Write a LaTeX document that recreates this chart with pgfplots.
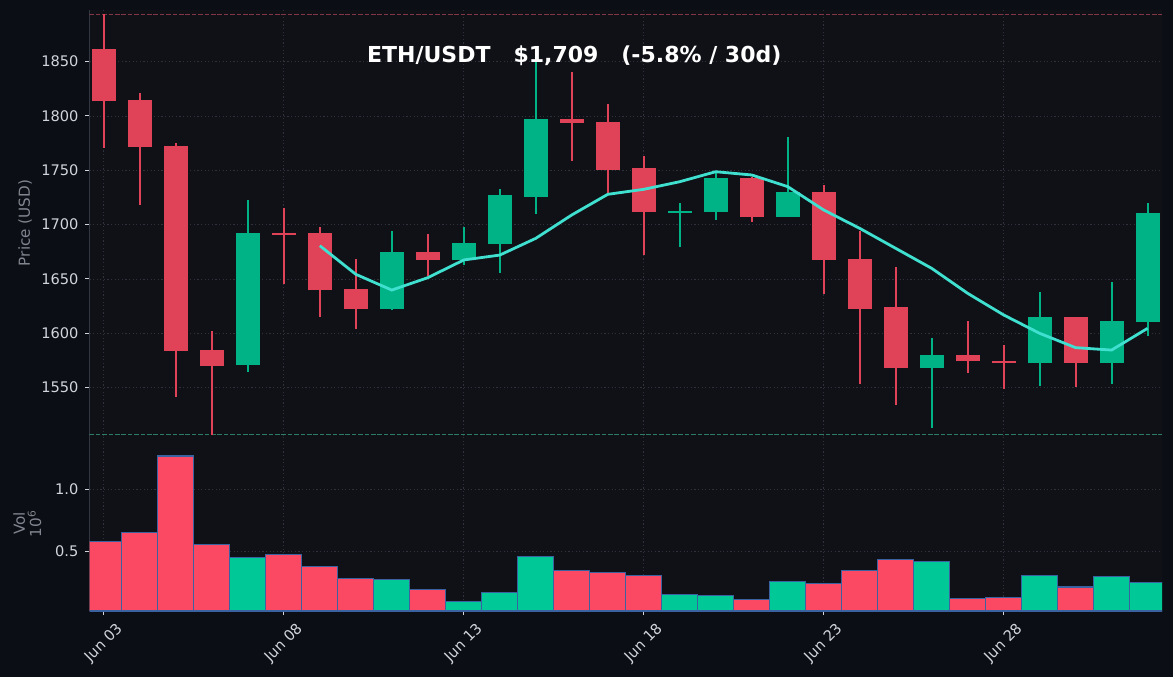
\documentclass[border=0pt]{standalone}
\usepackage{fontspec}
\setmainfont{DejaVu Sans}
\usepackage{pgfplots}
\pgfplotsset{compat=1.18}
\usepackage{pgfplotstable}

\definecolor{figbg}{RGB}{11,14,20}
\definecolor{axbg}{RGB}{15,17,22}
\definecolor{gridc}{RGB}{46,50,60}
\definecolor{spine}{RGB}{50,55,66}
\definecolor{tickc}{RGB}{209,212,220}
\definecolor{labc}{RGB}{128,133,143}
\definecolor{cred}{RGB}{224,66,88}
\definecolor{cgreen}{RGB}{0,179,134}
\definecolor{vred}{RGB}{252,73,99}
\definecolor{vgreen}{RGB}{0,200,150}
\definecolor{vedge}{RGB}{58,98,160}
\definecolor{mac}{RGB}{64,224,208}
\definecolor{dred}{RGB}{130,55,70}
\definecolor{dgreen}{RGB}{45,125,100}

\newcommand\tfont{\fontsize{7.3}{8.8}\selectfont}

% OHLC, red (close < open) and green candles
\pgfplotstableread{
i open high low close
0 1861.3 1893.8 1770.8 1813.5
1 1814.7 1820.9 1718.3 1771.2
2 1772.4 1774.8 1541.7 1583.4
3 1584.3 1602.1 1506.4 1570.2
5 1692.6 1715.3 1645.4 1690.2
6 1692.0 1697.8 1615.0 1639.6
7 1640.5 1668.4 1604.0 1622.1
9 1674.5 1691.1 1652.7 1667.2
13 1797.0 1840.5 1758.6 1793.3
14 1794.2 1811.0 1728.8 1750.6
15 1751.8 1763.2 1672.0 1711.3
18 1742.6 1743.5 1702.7 1707.3
20 1729.7 1736.5 1636.4 1667.2
21 1668.1 1694.1 1553.6 1622.6
22 1623.9 1661.3 1534.3 1568.3
24 1579.8 1611.3 1563.7 1574.2
25 1574.8 1589.2 1548.7 1572.4
27 1614.7 1615.0 1550.6 1572.4
}\redc
\pgfplotstableread{
i open high low close
4 1570.6 1722.7 1564.7 1692.0
8 1622.1 1694.1 1621.0 1674.5
10 1667.2 1697.5 1662.9 1682.8
11 1681.9 1732.5 1655.8 1727.0
12 1725.7 1852.0 1710.1 1797.0
16 1710.7 1719.9 1679.4 1713.0
17 1711.3 1749.6 1704.3 1742.6
19 1707.3 1780.6 1707.0 1729.7
23 1568.3 1595.7 1513.1 1579.8
26 1572.4 1638.0 1551.8 1614.7
28 1572.4 1647.2 1553.6 1611.0
29 1610.1 1719.9 1597.8 1710.4
}\greenc

% 7-day moving average
\pgfplotstableread{
i ma
6 1680.6
7 1654.3
8 1639.8
9 1651.2
10 1667.5
11 1672.0
12 1687.4
13 1708.9
14 1727.9
15 1732.5
16 1739.5
17 1748.7
18 1745.7
19 1735.0
20 1713.5
21 1696.6
22 1678.2
23 1659.8
24 1636.8
25 1616.9
26 1600.0
27 1586.8
28 1584.6
29 1604.6
}\mav

% volume, millions
\pgfplotstableread{
i vol
0 0.579
1 0.651
2 1.264
3 0.556
5 0.476
6 0.381
7 0.286
9 0.198
13 0.349
14 0.332
15 0.310
18 0.119
20 0.246
21 0.349
22 0.437
24 0.127
25 0.137
27 0.217
}\redv
\pgfplotstableread{
i vol
4 0.455
8 0.278
10 0.103
11 0.175
12 0.460
16 0.159
17 0.151
19 0.262
23 0.423
26 0.310
28 0.302
29 0.254
}\greenv

\pgfplotsset{
  darkax/.style={
    scale only axis, width=536.25pt,
    xmin=-0.4, xmax=29.4,
    axis background/.style={fill=axbg},
    axis x line*=bottom, axis y line*=left,
    x axis line style={draw=none},
    y axis line style={draw=spine, -},
    xtick={0,5,...,25},
    grid=major,
    grid style={draw=gridc, line width=0.4pt, dash pattern=on 0.6pt off 1.2pt},
    tick align=outside, major tick length=2pt,
    ytick style={draw=tickc, line width=0.5pt},
    yticklabel style={font=\tfont, text=tickc},
    /pgf/number format/1000 sep={},
    /pgf/number format/assume math mode=true,
  },
  wick/.style={draw=none, forget plot, error bars/.cd, y dir=plus, y explicit, error mark=none,
    error bar style={draw=#1, line width=0.9pt}},
  body/.style={draw=none, forget plot, error bars/.cd, y dir=plus, y explicit, error mark=none,
    error bar style={draw=#1, line width=12pt}},
}

\begin{document}
\begin{tikzpicture}
\fill[figbg] (0,0) rectangle (586.5pt,-338.5pt);

\begin{axis}[darkax,
  at={(44.75pt,-5pt)}, anchor=north west, height=213pt,
  ymin=1505.5, ymax=1897.5,
  ytick={1550,1600,...,1850},
  xticklabels={}, xtick style={draw=none},
  ylabel={Price (USD)},
  ylabel style={at={(axis description cs:-0.060,0.5)}, anchor=center, font=\fontsize{7.6}{9}\selectfont, text=labc},
]
\addplot[draw=dred, line width=0.5pt, dash pattern=on 2.3pt off 0.9pt, forget plot] coordinates {(-0.4,1893.8) (29.4,1893.8)};
\addplot[draw=dgreen, line width=0.5pt, dash pattern=on 2.3pt off 0.9pt, forget plot] coordinates {(-0.4,1506.6) (29.4,1506.6)};

\addplot[wick=cred] table[x=i, y=low, y error expr=\thisrow{high}-\thisrow{low}] {\redc};
\addplot[body=cred] table[x=i, y=close, y error expr=\thisrow{open}-\thisrow{close}] {\redc};
\addplot[wick=cgreen] table[x=i, y=low, y error expr=\thisrow{high}-\thisrow{low}] {\greenc};
\addplot[body=cgreen] table[x=i, y=open, y error expr=\thisrow{close}-\thisrow{open}] {\greenc};

\addplot[mac, line width=1.4pt, mark=none] table[x=i, y=ma] {\mav};

\node[font=\bfseries\fontsize{11}{13}\selectfont, text=white] at (rel axis cs:0.452,0.892)
  {ETH/USDT\hspace{1.044em}\$1,709\hspace{1.044em}(-5.8\% / 30d)};
\end{axis}

\begin{axis}[darkax,
  at={(44.75pt,-218pt)}, anchor=north west, height=87.5pt,
  ymin=0.026, ymax=1.423,
  ytick={0.5,1.0}, yticklabels={0.5,1.0},
  xticklabels={Jun 03,Jun 08,Jun 13,Jun 18,Jun 23,Jun 28},
  xtick style={draw=tickc, line width=0.5pt},
  xticklabel shift=14pt,
  xticklabel style={font=\tfont, text=tickc, rotate=45, anchor=center},
  ylabel={Vol\\10\textsuperscript{6}},
  ylabel style={at={(axis description cs:-0.058,0.5)}, anchor=center, align=center,
    font=\fontsize{7.6}{8.2}\selectfont, text=labc},
]
\addplot[ybar, bar width=1, bar shift=0pt, fill=vred, draw=vedge, line width=0.6pt] table[x=i, y=vol] {\redv};
\addplot[ybar, bar width=1, bar shift=0pt, fill=vgreen, draw=vedge, line width=0.6pt] table[x=i, y=vol] {\greenv};
\end{axis}

\pgfresetboundingbox
\useasboundingbox (0,0) rectangle (586.5pt,-338.5pt);
\end{tikzpicture}
\end{document}
